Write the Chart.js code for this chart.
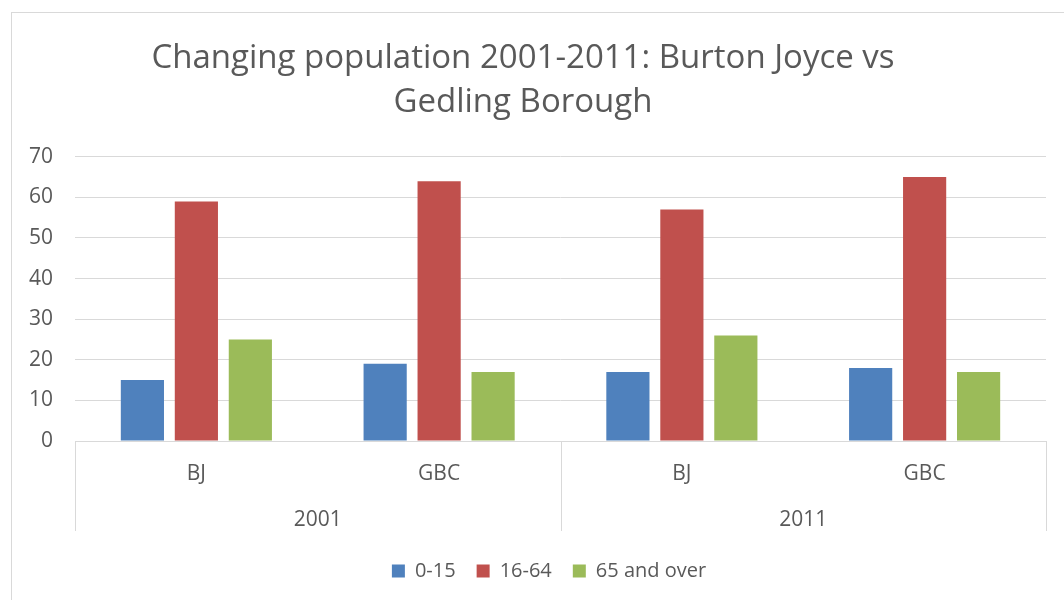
<!DOCTYPE html>
<html>
<head>
<meta charset="utf-8">
<script src="https://cdn.jsdelivr.net/npm/chart.js@4.4.1/dist/chart.umd.min.js"></script>
<style>
    html, body { margin: 0; padding: 0; background: #ffffff; }
    #wrap { position: relative; width: 1064px; height: 600px; }
</style>
</head>
<body>
<div id="wrap"><canvas id="pop_chart" width="1064" height="600"></canvas></div>
<script>
// chart values
const categories = ['BJ', 'GBC', 'BJ', 'GBC'];
const years = ['2001', '2011'];
const age0to15 = [15, 19, 17, 18];
const age16to64 = [59, 64, 57, 65];
const age65plus = [25, 17, 26, 17];
const yTicks = [0, 10, 20, 30, 40, 50, 60, 70];
const chartTitle = ['Changing population 2001-2011: Burton Joyce vs', 'Gedling Borough'];

const COLORS = {
    BLUE: '#4f81bd',
    RED: '#c0504d',
    GREEN: '#9bbb59',
    TEXT: '#595959',
    GRID: '#d9d9d9'
};
const FONT = "'Open Sans', 'Liberation Sans', sans-serif";

// draws the outer chart frame, the year row and the category separators
const groupAxisPlugin = {
    id: 'groupAxis',
    afterLayout: (chart) => {
        // legend sits a little right of centre in the original
        chart.legend.left += 26;
        chart.legend.right += 26;
    },
    beforeDraw: (chart) => {
        const ctx = chart.ctx;
        ctx.save();
        ctx.strokeStyle = COLORS.GRID;
        ctx.lineWidth = 1;
        ctx.strokeRect(11.5, 12.5, chart.width + 20, chart.height + 20);
        ctx.restore();
    },
    afterDraw: (chart) => {
        const ctx = chart.ctx;
        const x = chart.scales.x;
        const area = chart.chartArea;
        const bottom = area.bottom + 90;
        const perYear = categories.length / years.length;
        ctx.save();
        ctx.strokeStyle = COLORS.GRID;
        ctx.lineWidth = 1;
        const edges = [area.left];
        for (var i = 1; i < years.length; i++) {
            var a = x.getPixelForValue(i * perYear - 1);
            var b = x.getPixelForValue(i * perYear);
            edges.push((a + b) / 2);
        }
        edges.push(area.right);
        edges.forEach((ex) => {
            var px = Math.round(ex) + 0.5;
            ctx.beginPath();
            ctx.moveTo(px, area.bottom);
            ctx.lineTo(px, bottom);
            ctx.stroke();
        });
        ctx.fillStyle = COLORS.TEXT;
        ctx.font = `21px ${FONT}`;
        ctx.textAlign = 'center';
        ctx.textBaseline = 'middle';
        years.forEach((yr, idx) => {
            var first = x.getPixelForValue(idx * perYear);
            var last = x.getPixelForValue(idx * perYear + perYear - 1);
            ctx.fillText(yr, (first + last) / 2, area.bottom + 79);
        });
        ctx.restore();
    }
};

const makeDataset = (label, data, color) => {
    return {
        label: label,
        data: data,
        backgroundColor: color,
        borderColor: color,
        borderWidth: 0,
        categoryPercentage: 0.667,
        barPercentage: 0.8
    };
};

const config = {
    type: 'bar',
    data: {
        labels: categories,
        datasets: [
            makeDataset('0-15', age0to15, COLORS.BLUE),
            makeDataset('16-64', age16to64, COLORS.RED),
            makeDataset('65 and over', age65plus, COLORS.GREEN)
        ]
    },
    options: {
        responsive: false,
        animation: false,
        layout: {
            padding: { left: 0, right: 18, top: 0, bottom: 9 }
        },
        plugins: {
            title: {
                display: true,
                text: chartTitle,
                color: COLORS.TEXT,
                font: { family: FONT, size: 33, weight: 'normal', lineHeight: 1.33 },
                padding: { top: 37, bottom: 32 }
            },
            legend: {
                display: true,
                position: 'bottom',
                labels: {
                    color: COLORS.TEXT,
                    font: { family: FONT, size: 20 },
                    boxWidth: 13,
                    boxHeight: 13,
                    padding: 21
                }
            },
            tooltip: { enabled: false }
        },
        scales: {
            x: {
                grid: { display: false },
                border: { display: true, color: COLORS.GRID },
                ticks: {
                    color: COLORS.TEXT,
                    font: { family: FONT, size: 21 },
                    padding: 12
                },
                afterFit: (scale) => { scale.height = 99; }
            },
            y: {
                min: 0,
                max: 70,
                afterBuildTicks: (scale) => {
                    scale.ticks = yTicks.map(v => ({ value: v }));
                },
                grid: { color: COLORS.GRID, drawTicks: false },
                border: { display: false },
                ticks: {
                    color: COLORS.TEXT,
                    font: { family: FONT, size: 21 },
                    padding: 22
                },
                afterFit: (scale) => { scale.width = 75; }
            }
        }
    },
    plugins: [groupAxisPlugin]
};

const attachChart = (id, cfg) => {
    var ctx = document.getElementById(id);
    return new Chart(ctx, cfg);
};

attachChart('pop_chart', config);
</script>
</body>
</html>
